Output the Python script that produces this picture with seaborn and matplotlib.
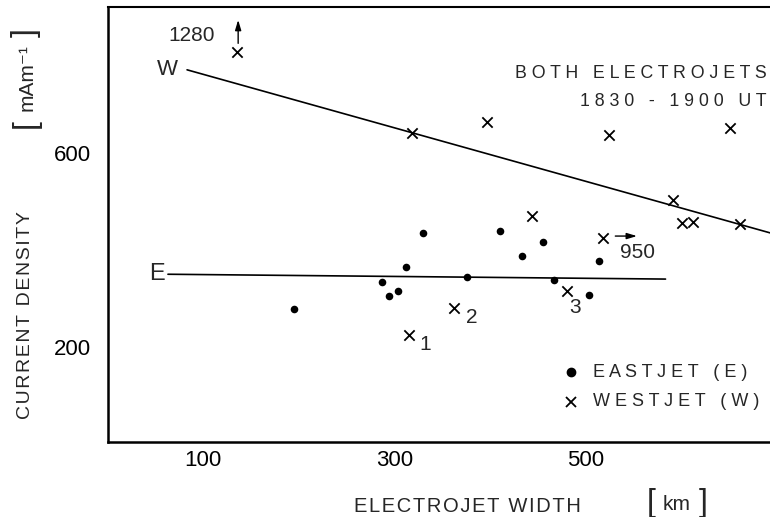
import matplotlib
matplotlib.use("Agg")
import matplotlib.pyplot as plt
import pandas as pd
import seaborn as sns

# Eastward electrojet: width [km] and current density [mA/m]
east_width = [195, 287, 294, 304, 312, 330, 376, 411, 434, 456, 467, 504, 514]
east_current = [278, 333, 306, 315, 366, 436, 345, 440, 388, 417, 338, 308, 378]

# Westward electrojet
west_width = [135, 319, 397, 525, 651, 592, 444, 601, 613, 662, 519, 481, 362, 315]
west_current = [810, 642, 666, 638, 652, 504, 471, 455, 459, 453, 426, 316, 280, 224]

# Fitted lines (end points)
east_fit_x = [63, 584]
east_fit_y = [350, 340]
west_fit_x = [83, 700]
west_fit_y = [773, 432]

# Numbered westjet events
event_labels = ["1", "2", "3"]
event_width = [315, 362, 481]
event_current = [224, 280, 316]

# Off-scale events: drawn position and true value
offscale_width = [135, 519]
offscale_current = [810, 426]
offscale_text = ["1280", "950"]

x_ticks = [100, 200, 300, 400, 500, 600]
x_ticklabels = ["100", "", "300", "", "500", ""]
y_ticks = [200, 400, 600, 800]
y_ticklabels = ["200", "", "600", ""]

sns.set_theme(style="white")
FONT = ["Liberation Sans", "DejaVu Sans"]
plt.rcParams["font.family"] = FONT
plt.rcParams["axes.unicode_minus"] = False

W, H = 770, 517
fig = plt.figure(figsize=(W / 100, H / 100), dpi=100)
left, right, bottom, top = 107.8, 770.0, 441.7, 6.7
ax = fig.add_axes([left / W, 1 - bottom / H, (right - left) / W, (bottom - top) / H])


def fx(px):
    return px / W


def fy(py):
    return 1 - py / H


def tracked(s, sep=" "):
    return sep.join(s)


east = pd.DataFrame({"width": east_width, "current": east_current})
west = pd.DataFrame({"width": west_width, "current": west_current})

sns.lineplot(x=east_fit_x, y=east_fit_y, ax=ax, color="black", lw=1.2)
sns.lineplot(x=west_fit_x, y=west_fit_y, ax=ax, color="black", lw=1.2)
sns.scatterplot(data=east, x="width", y="current", ax=ax, marker="o",
                color="black", s=30, edgecolor="black", linewidth=0)
sns.scatterplot(data=west, x="width", y="current", ax=ax, marker="x",
                color="black", s=55, linewidth=1.3)

ax.set_xlim(0, 693.4)
ax.set_ylim(3.5, 903.6)
ax.set_xticks(x_ticks)
ax.set_xticklabels(x_ticklabels)
ax.set_yticks(y_ticks)
ax.set_yticklabels(y_ticklabels)
ax.tick_params(axis="both", direction="in", length=7, width=1.2,
               color="black", labelsize=16, labelcolor="black")
ax.tick_params(axis="x", pad=6)
ax.tick_params(axis="y", pad=12)
ax.set_xlabel("")
ax.set_ylabel("")
for side in ("left", "bottom"):
    ax.spines[side].set_linewidth(1.8)
    ax.spines[side].set_color("black")
ax.spines["top"].set_linewidth(1.5)
ax.spines["top"].set_color("black")
ax.spines["right"].set_visible(False)

# Fit labels
ax.text(62, 773, "W", ha="center", va="center", fontsize=16)
ax.text(51, 349.5, "E", ha="center", va="center", fontsize=17)

# Event numbers
offsets = [(12, -6.5), (13, -6.5), (6, -12)]
for lab, xv, yv, off in zip(event_labels, event_width, event_current, offsets):
    ax.annotate(lab, (xv, yv), xytext=off, textcoords="offset points",
                ha="center", va="center", fontsize=15)

# Off-scale values with arrows
arrow = dict(arrowstyle="-|>,head_length=0.5,head_width=0.15", color="black", lw=1.0)
ax.annotate("", xy=(136.5, 882), xytext=(136.5, 822), arrowprops=arrow)
ax.text(87.6, 845, offscale_text[0], ha="center", va="center", fontsize=15)
ax.annotate("", xy=(557, 429), xytext=(528.5, 429), arrowprops=arrow)
ax.text(554.7, 396, offscale_text[1], ha="center", va="center", fontsize=15)

# Title block
ax.text(690, 766, tracked("BOTH ELECTROJETS"), ha="right", va="center", fontsize=12.8)
ax.text(690, 707, tracked("1830 - 1900 UT"), ha="right", va="center", fontsize=12.8)

# Legend
ax.plot([484.7], [147.1], marker="o", color="black", ms=6, ls="none")
ax.plot([484.7], [86.3], marker="x", color="black", ms=7.5, mew=1.3, ls="none")
ax.text(507.7, 147.1, tracked("EASTJET (E)"), ha="left", va="center", fontsize=13)
ax.text(507.7, 86.3, tracked("WESTJET (W)"), ha="left", va="center", fontsize=13)

# Axis titles with bracketed units
hair = "\u200a"
fig.text(fx(26), fy(315), tracked("CURRENT DENSITY", hair), rotation=90,
         ha="center", va="center", fontsize=14)
fig.text(fx(26), fy(124), "[", rotation=90, ha="center", va="center", fontsize=23)
fig.text(fx(27), fy(78), "mAm⁻¹", rotation=90, ha="center", va="center", fontsize=15)
fig.text(fx(26), fy(33), "]", rotation=90, ha="center", va="center", fontsize=23)

fig.text(fx(467), fy(506), tracked("ELECTROJET WIDTH", hair),
         ha="center", va="center", fontsize=14.5)
fig.text(fx(651), fy(503), "[", ha="center", va="center", fontsize=23)
fig.text(fx(677), fy(505), "km", ha="center", va="center", fontsize=15)
fig.text(fx(703), fy(503), "]", ha="center", va="center", fontsize=23)

fig.savefig("out.png", dpi=100)
